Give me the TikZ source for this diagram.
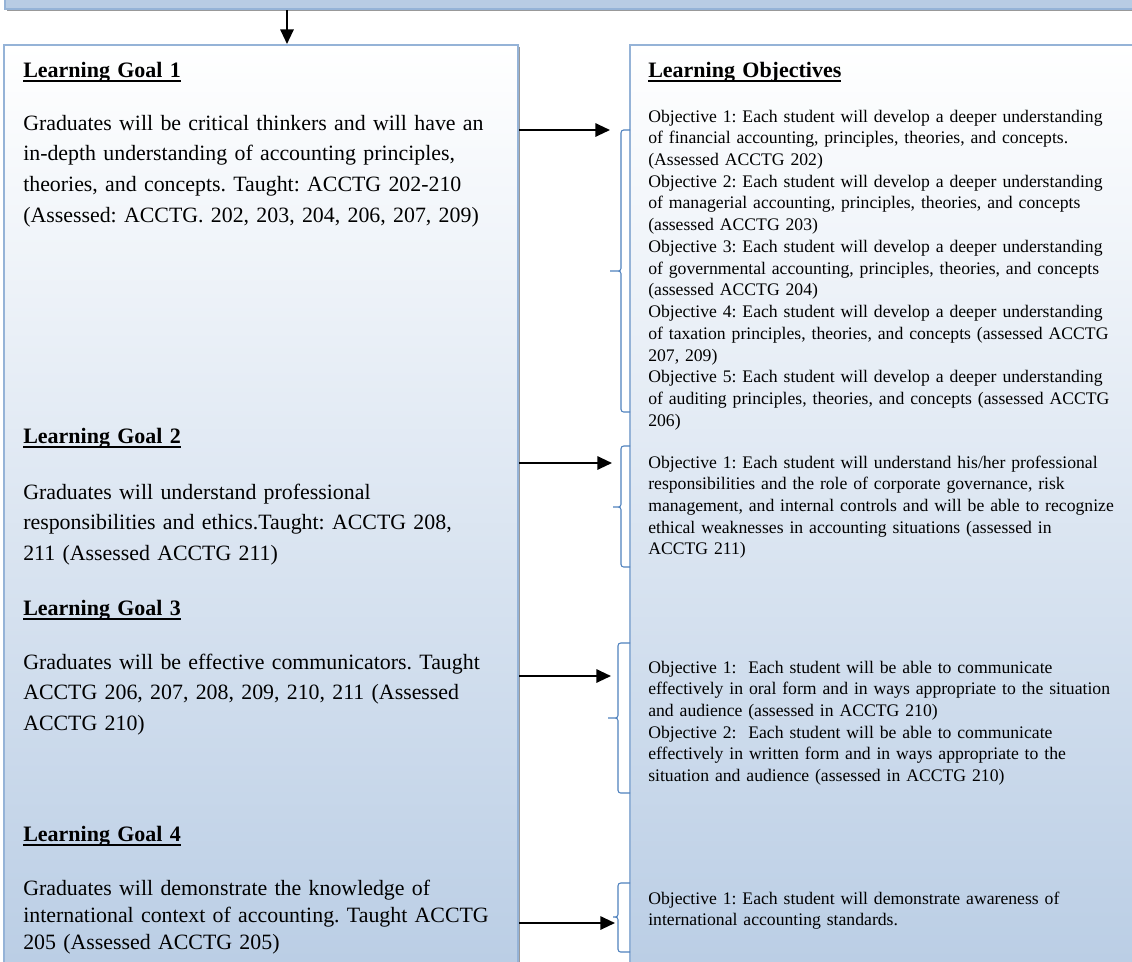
\documentclass[tikz,border=0pt]{standalone}
\usepackage{fontspec}
\setmainfont{Liberation Serif}
\usepackage{xcolor}
\usetikzlibrary{arrows.meta,positioning,fit,shadows}

\definecolor{panelblue}{HTML}{B8CCE4}
\definecolor{rimblue}{HTML}{95B3D7}
\definecolor{bracketblue}{HTML}{4F81BD}
\newsavebox{\headbox}
\newcommand{\ulhead}[1]{\sbox{\headbox}{#1}\rlap{\rule[-3.4pt]{\wd\headbox}{1.4pt}}\usebox{\headbox}}
\frenchspacing

\begin{document}
\begin{tikzpicture}[
    x=0.75pt, y=-0.75pt,
    >={Triangle[length=11pt,width=10pt]},
    panel/.style={draw=rimblue, line width=1.5pt, inner sep=0pt, top color=white, bottom color=panelblue,
        drop shadow={shadow xshift=1.7pt, shadow yshift=-1.7pt, fill=black!40, opacity=1}},
    bar/.style={draw=rimblue, line width=1.5pt, inner sep=0pt, fill=panelblue,
        drop shadow={shadow xshift=1.7pt, shadow yshift=-1.7pt, fill=black!40, opacity=1}},
    head/.style={anchor=base west, inner sep=0pt, text width=370pt, align=left, font=\bfseries\fontsize{16.5}{23}\selectfont},
    goaltext/.style={anchor=base west, inner sep=0pt, text width=370pt, align=left, font=\fontsize{16.4}{23}\selectfont},
    objtext/.style={anchor=base west, inner sep=0pt, text width=370pt, align=left, font=\fontsize{13.25}{16.3}\selectfont},
    bracket/.style={draw=bracketblue, line width=0.8pt, rounded corners=2pt},
    arrow/.style={->, line width=1.5pt}
]
\useasboundingbox (0,0) rectangle (1132,961);
\clip (0,0) rectangle (1132,961);

% panels
\node[bar, fit={(5,-15) (1160,9)}] (topbar) {};
\node[panel, fit={(4,45) (518,1000)}] (goals) {};
\node[panel, fit={(630,45) (1160,1000)}] (objectives) {};

% brackets in front of the objectives
\draw[bracket] (630,130) -- (621,130) -- (621,271) -- (610,271) (610,271) -- (621,271) -- (621,412) -- (630,412);
\draw[bracket] (630,446) -- (621,446) -- (621,507) -- (613,507) (613,507) -- (621,507) -- (621,567) -- (630,567);
\draw[bracket] (630,643) -- (618,643) -- (618,718) -- (608,718) (608,718) -- (618,718) -- (618,793) -- (630,793);
\draw[bracket] (630,883) -- (618,883) -- (618,917) -- (613,917) (613,917) -- (618,917) -- (618,952) -- (630,952);

\coordinate (drop) at (287,0);
\coordinate (tipone) at (610,130);
\coordinate (tiptwo) at (612,463);
\coordinate (tipthree) at (611,676);
\coordinate (tipfour) at (615,923);

% left column
\node[head] (goalonehead) at (23,77) {\ulhead{Learning Goal 1}};
\node[goaltext] (goalone) at (23,130) {Graduates will be critical thinkers and will have an\\in-depth understanding of accounting principles,\\theories, and concepts. Taught: ACCTG 202-210\\(Assessed: ACCTG. 202, 203, 204, 206, 207, 209)};
\node[head] (goaltwohead) at (23,443) {\ulhead{Learning Goal 2}};
\node[goaltext] (goaltwo) at (23,499) {Graduates will understand professional\\responsibilities and ethics.Taught: ACCTG 208,\\211 (Assessed ACCTG 211)};
\node[head] (goalthreehead) at (23,615) {\ulhead{Learning Goal 3}};
\node[goaltext] (goalthree) at (23,669) {Graduates will be effective communicators. Taught\\ACCTG 206, 207, 208, 209, 210, 211 (Assessed\\ACCTG 210)};
\node[head] (goalfourhead) at (23,841) {\ulhead{Learning Goal 4}};
\node[goaltext, font=\fontsize{16.4}{20.3}\selectfont] (goalfour) at (23,895) {Graduates will demonstrate the knowledge of\\international context of accounting. Taught ACCTG\\205 (Assessed ACCTG 205)};

% right column
\node[head] (objhead) at (648,77) {\ulhead{Learning Objectives}};
\node[objtext] (objone) at (648,122) {Objective 1: Each student will develop a deeper understanding\\of financial accounting, principles, theories, and concepts.\\(Assessed ACCTG 202)\\Objective 2: Each student will develop a deeper understanding\\of managerial accounting, principles, theories, and concepts\\(assessed ACCTG 203)\\Objective 3: Each student will develop a deeper understanding\\of governmental accounting, principles, theories, and concepts\\(assessed ACCTG 204)\\Objective 4: Each student will develop a deeper understanding\\of taxation principles, theories, and concepts (assessed ACCTG\\207, 209)\\Objective 5: Each student will develop a deeper understanding\\of auditing principles, theories, and concepts (assessed ACCTG\\206)};
\node[objtext] (objtwo) at (648,468) {Objective 1: Each student will understand his/her professional\\responsibilities and the role of corporate governance, risk\\management, and internal controls and will be able to recognize\\ethical weaknesses in accounting situations (assessed in\\ACCTG 211)};
\node[objtext] (objthree) at (648,673) {Objective 1:\ \ Each student will be able to communicate\\effectively in oral form and in ways appropriate to the situation\\and audience (assessed in ACCTG 210)\\Objective 2:\ \ Each student will be able to communicate\\effectively in written form and in ways appropriate to the\\situation and audience (assessed in ACCTG 210)};
\node[objtext] (objfour) at (648,904) {Objective 1: Each student will demonstrate awareness of\\international accounting standards.};

% arrows
\draw[arrow] (topbar.south -| drop) -- (goals.north -| drop);
\draw[arrow] (goals.east |- tipone) -- (tipone);
\draw[arrow] (goals.east |- tiptwo) -- (tiptwo);
\draw[arrow] (goals.east |- tipthree) -- (tipthree);
\draw[arrow] (goals.east |- tipfour) -- (tipfour);
\end{tikzpicture}
\end{document}
